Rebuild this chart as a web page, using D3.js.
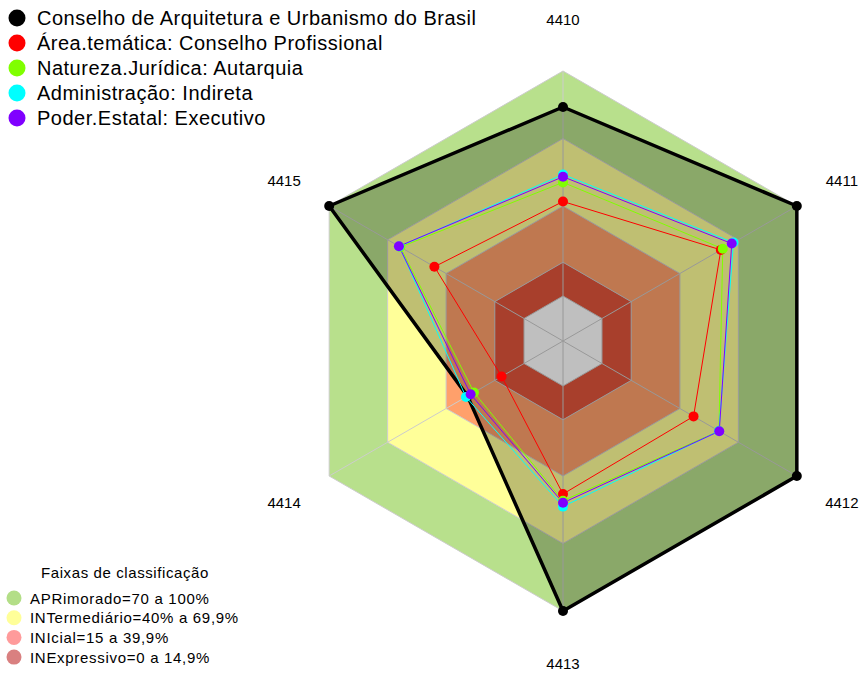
<!DOCTYPE html>
<html>
<head>
<meta charset="utf-8">
<script src="https://cdn.jsdelivr.net/npm/d3@7"></script>
<style>
  body { margin: 0; background: #fff; }
  svg { display: block; font-family: "Liberation Sans", Arial, sans-serif; }
</style>
</head>
<body>
<svg id="chart" width="863" height="673"></svg>
<script>
const axesLabels = ["4410", "4411", "4412", "4413", "4414", "4415"];

const seriesNames = [
  "Conselho de Arquitetura e Urbanismo do Brasil",
  "Área.temática: Conselho Profissional",
  "Natureza.Jurídica: Autarquia",
  "Administração: Indireta",
  "Poder.Estatal: Executivo"
];
const seriesColors = ["#000000", "#ff0000", "#80ff00", "#00ffff", "#8000ff"];

const valuesConselho = [84, 100, 100, 100, 29, 100];
const valuesArea     = [42, 61, 47, 48, 11.5, 46];
const valuesNatureza = [50.5, 62, 60, 51, 25.7, 63.5];
const valuesAdmin    = [54, 67.5, 60, 53.6, 29.8, 64];
const valuesPoder    = [53, 66.6, 60.2, 51.9, 27.4, 64.2];
const seriesValues = [valuesConselho, valuesArea, valuesNatureza, valuesAdmin, valuesPoder];

const bandLabels = ["APRimorado=70 a 100%", "INTermediário=40% a 69,9%", "INIcial=15 a 39,9%", "INExpressivo=0 a 14,9%"];
const bandMax = [100, 70, 40, 15];
const bandMin = [70, 40, 15, 0];
const bandColors = ["#b8e08c", "#ffff99", "#ffa06b", "#e0553b"];
const bandLegendColors = ["#b3de87", "#ffff99", "#ff9b9b", "#d98080"];
const ringValues = [0, 15, 40, 70, 100];
const scaleMin = -20;

const svg = d3.select("#chart");
const cx = 563, cy = 341, R = 270;

const r = d3.scaleLinear().domain([scaleMin, 100]).range([0, R]);
const angle = d3.scalePoint().domain(axesLabels).range([0, 2 * Math.PI * (axesLabels.length - 1) / axesLabels.length]);

function pt(axis, v) {
  const a = angle(axis) - Math.PI / 2;
  return [cx + r(v) * Math.cos(a), cy + r(v) * Math.sin(a)];
}
function ringPath(v) {
  return axesLabels.map(a => pt(a, v));
}
const line = d3.line().curve(d3.curveLinearClosed);

const g = svg.append("g");

// bands (annular hexagons)
bandMax.forEach((mx, i) => {
  const outer = ringPath(mx);
  const inner = ringPath(bandMin[i]).reverse();
  g.append("path")
    .attr("d", line(outer) + line(inner))
    .attr("fill", bandColors[i])
    .attr("fill-rule", "evenodd")
    .attr("stroke", "none");
});

// grid rings and spokes
ringValues.forEach(v => {
  g.append("path").attr("d", line(ringPath(v)))
    .attr("fill", "none").attr("stroke", "#cccccc").attr("stroke-width", 1);
});
axesLabels.forEach(a => {
  const [x1, y1] = pt(a, scaleMin);
  const [x2, y2] = pt(a, 100);
  g.append("line").attr("x1", x1).attr("y1", y1).attr("x2", x2).attr("y2", y2)
    .attr("stroke", "#cccccc").attr("stroke-width", 1);
});

// axis labels
axesLabels.forEach(a => {
  const ang = angle(a) - Math.PI / 2;
  const lr = 322;
  g.append("text")
    .attr("x", cx + lr * Math.cos(ang))
    .attr("y", cy + lr * Math.sin(ang))
    .attr("text-anchor", "middle")
    .attr("dominant-baseline", "central")
    .attr("font-size", 15)
    .attr("fill", "#000")
    .text(a);
});

// series
seriesValues.forEach((vals, si) => {
  const pts = axesLabels.map((a, i) => pt(a, vals[i]));
  const isMain = si === 0;
  g.append("path")
    .attr("d", line(pts))
    .attr("fill", isMain ? "#000" : "none")
    .attr("fill-opacity", isMain ? 0.25 : 0)
    .attr("stroke", seriesColors[si])
    .attr("stroke-width", isMain ? 3.5 : 1)
    .attr("stroke-linejoin", "round");
});
seriesValues.forEach((vals, si) => {
  const pts = axesLabels.map((a, i) => pt(a, vals[i]));
  g.selectAll(null).data(pts).enter().append("circle")
    .attr("cx", d => d[0]).attr("cy", d => d[1])
    .attr("r", 5)
    .attr("fill", seriesColors[si]);
});

// top legend
const leg = svg.append("g");
seriesNames.forEach((n, i) => {
  const y = 18 + i * 25;
  leg.append("circle").attr("cx", 17).attr("cy", y).attr("r", 8.5).attr("fill", seriesColors[i]);
  leg.append("text").attr("x", 37).attr("y", y).attr("dominant-baseline", "central")
    .attr("font-size", 20).attr("letter-spacing", 0.5).attr("fill", "#000").text(n);
});

// band legend
const bl = svg.append("g");
bl.append("text").attr("x", 125).attr("y", 572).attr("text-anchor", "middle")
  .attr("dominant-baseline", "central").attr("font-size", 15).attr("letter-spacing", 0.6)
  .attr("fill", "#000")
  .text("Faixas de classificação");
bandLabels.forEach((t, i) => {
  const y = 598 + i * 19.7;
  bl.append("circle").attr("cx", 14).attr("cy", y).attr("r", 7.5)
    .attr("fill", bandLegendColors[i]);
  bl.append("text").attr("x", 30).attr("y", y).attr("dominant-baseline", "central")
    .attr("font-size", 15).attr("letter-spacing", 0.7).attr("fill", "#000").text(t);
});
</script>
</body>
</html>
